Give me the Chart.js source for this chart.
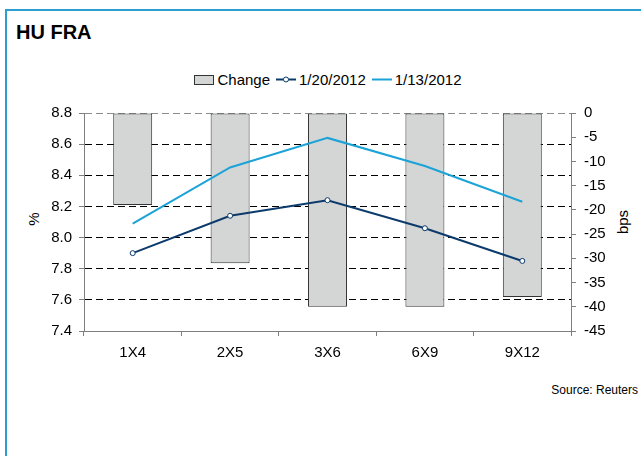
<!DOCTYPE html>
<html>
<head>
<meta charset="utf-8">
<title>HU FRA</title>
<script src="https://cdn.jsdelivr.net/npm/chart.js@4.4.1/dist/chart.umd.min.js"></script>
<style>
    body {
        margin: 0;
        width: 641px;
        height: 456px;
        overflow: hidden;
        background: #fff;
        position: relative;
        font-family: "Liberation Sans", Arial, sans-serif;
        color: #000;
    }
    .frame {
        position: absolute;
        left: 5px; top: 9px; right: -10px; bottom: -10px;
        border-top: 2px solid #2b9fd0;
        border-left: 2px solid #2b9fd0;
    }
    .title {
        position: absolute;
        left: 16px; top: 21px;
        font-size: 20px; font-weight: bold;
    }
    .legend {
        position: absolute;
        left: 85px; width: 486px; top: 71px;
        display: flex; justify-content: center; align-items: center;
        font-size: 15px;
    }
    .legend .item { display: flex; align-items: center; margin: 0 3px; }
    .legend svg { margin-right: 3px; }
    .axis-title {
        position: absolute;
        font-size: 15px;
        transform: translate(-50%, -50%) rotate(-90deg);
        white-space: nowrap;
    }
    .source {
        position: absolute;
        right: 3px; top: 383px;
        font-size: 12px;
    }
    canvas { position: absolute; left: 0; top: 0; }
</style>
</head>
<body>
<div class="frame"></div>
<div class="title">HU FRA</div>
<div class="legend" id="legend"></div>
<div class="axis-title" style="left:33px; top:219px;">%</div>
<div class="axis-title" style="left:622px; top:222px;">bps</div>
<div class="source">Source: Reuters</div>
<canvas id="fraChart" width="641" height="456"></canvas>

<script>
// --- Data ---
const categories = ['1X4', '2X5', '3X6', '6X9', '9X12'];
const changeBps = [-19, -31, -40, -40, -38];
const rates0120 = [7.90, 8.14, 8.24, 8.06, 7.85];
const rates0113 = [8.09, 8.45, 8.64, 8.46, 8.23];

const NAVY = '#0b3a6b';
const CYAN = '#1ba3d8';
const BAR_FILL = '#d4d5d5';
const AXIS_GREY = '#7f7f7f';

document.addEventListener('DOMContentLoaded', () => {
    buildLegend();
    initChart();
});

function buildLegend() {
    const legend = document.getElementById('legend');
    legend.innerHTML =
        '<span class="item"><svg width="20" height="10"><rect x="0.5" y="0.5" width="19" height="9" fill="' + BAR_FILL + '" stroke="#333"/></svg>Change</span>' +
        '<span class="item"><svg width="20" height="11"><line x1="0" y1="5.5" x2="20" y2="5.5" stroke="' + NAVY + '" stroke-width="2"/><circle cx="10" cy="5.5" r="2.5" fill="#fff" stroke="' + NAVY + '" stroke-width="1"/></svg>1/20/2012</span>' +
        '<span class="item"><svg width="20" height="11"><line x1="0" y1="5.5" x2="20" y2="5.5" stroke="' + CYAN + '" stroke-width="2"/></svg>1/13/2012</span>';
}

function initChart() {
    const ctx = document.getElementById('fraChart').getContext('2d');
    const tickFont = { family: '"Liberation Sans", Arial, sans-serif', size: 15 };

    new Chart(ctx, {
        type: 'bar',
        data: {
            labels: categories,
            datasets: [
                {
                    type: 'line',
                    label: '1/20/2012',
                    data: rates0120,
                    yAxisID: 'y',
                    borderColor: NAVY,
                    borderWidth: 2,
                    pointRadius: 2.5,
                    pointBackgroundColor: '#fff',
                    pointBorderColor: NAVY,
                    pointBorderWidth: 1,
                    tension: 0,
                    order: 1
                },
                {
                    type: 'line',
                    label: '1/13/2012',
                    data: rates0113,
                    yAxisID: 'y',
                    borderColor: CYAN,
                    borderWidth: 2,
                    pointRadius: 0,
                    tension: 0,
                    order: 2
                },
                {
                    type: 'bar',
                    label: 'Change',
                    data: changeBps,
                    yAxisID: 'y1',
                    backgroundColor: BAR_FILL,
                    borderColor: '#333',
                    borderWidth: 1,
                    borderSkipped: false,
                    barPercentage: 0.4,
                    categoryPercentage: 1,
                    order: 3
                }
            ]
        },
        options: {
            responsive: false,
            animation: false,
            layout: {
                padding: { left: 24, right: 20, top: 113, bottom: 95 }
            },
            plugins: {
                legend: { display: false },
                tooltip: { enabled: false }
            },
            scales: {
                x: {
                    offset: true,
                    grid: {
                        offset: true,
                        drawOnChartArea: false,
                        drawTicks: true,
                        tickLength: 5,
                        tickColor: AXIS_GREY
                    },
                    border: { color: AXIS_GREY, width: 1 },
                    ticks: { color: '#000', font: tickFont, padding: 8 },
                    afterFit: (scale) => { scale.height = 30; }
                },
                y: {
                    position: 'left',
                    min: 7.4,
                    max: 8.8,
                    ticks: {
                        stepSize: 0.2,
                        color: '#000',
                        font: tickFont,
                        padding: 7,
                        callback: (v) => Number(v).toFixed(1)
                    },
                    grid: {
                        color: (c) => {
                            if (c.index === 0) return 'rgba(0,0,0,0)';
                            if (c.tick && Math.abs(c.tick.value - 8.8) < 1e-6) return '#8c8c8c';
                            return '#000';
                        },
                        lineWidth: 1,
                        tickLength: 5,
                        tickColor: AXIS_GREY
                    },
                    border: { color: AXIS_GREY, width: 1, dash: [7, 4] },
                    afterFit: (scale) => { scale.width = 60; }
                },
                y1: {
                    position: 'right',
                    min: -45,
                    max: 0,
                    ticks: {
                        stepSize: 5,
                        color: '#000',
                        font: tickFont,
                        padding: 8
                    },
                    grid: {
                        drawOnChartArea: false,
                        tickLength: 5,
                        tickColor: AXIS_GREY
                    },
                    border: { color: AXIS_GREY, width: 1 },
                    afterFit: (scale) => { scale.width = 50; }
                }
            }
        }
    });
}
</script>
</body>
</html>
